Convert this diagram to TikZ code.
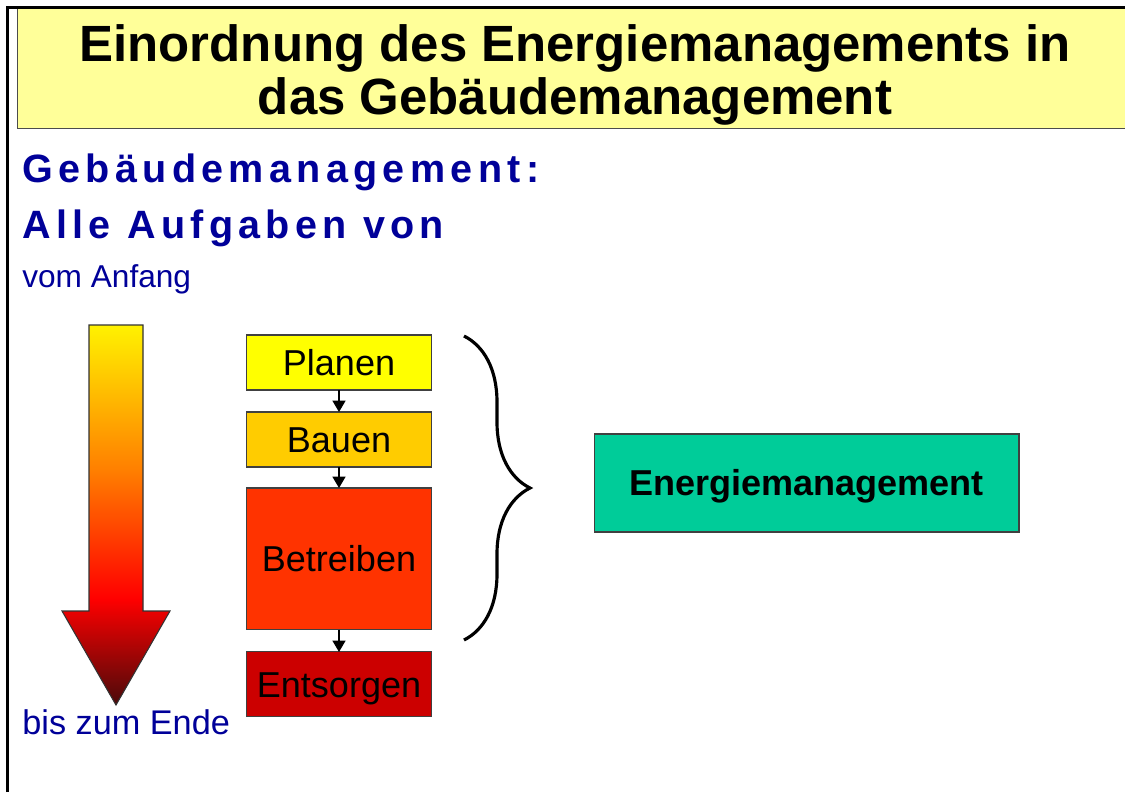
\documentclass[tikz,border=0pt]{standalone}
\usepackage{fontspec}
\setmainfont{Liberation Sans}
\newfontfamily\headfont[LetterSpace=13.5]{Liberation Sans}
\usetikzlibrary{arrows.meta,positioning,decorations.pathreplacing}
\definecolor{titleyellow}{HTML}{FFFF99}
\definecolor{slideblue}{HTML}{000099}
\definecolor{planyellow}{HTML}{FFFF00}
\definecolor{bauorange}{HTML}{FFCC00}
\definecolor{betriebred}{HTML}{FF3300}
\definecolor{entsorgred}{HTML}{CC0000}
\definecolor{energygreen}{HTML}{00CC99}
\definecolor{arrowtop}{HTML}{FFF200}
\definecolor{arrowdark}{HTML}{4A0A0A}
\pgfdeclareverticalshading{lifecycle}{100bp}{color(0bp)=(arrowdark); color(25bp)=(arrowdark); color(39bp)=(red); color(56bp)=(orange); color(75bp)=(arrowtop); color(100bp)=(arrowtop)}
\tikzstyle{phase}=[draw=black!75,line width=0.6pt,outer sep=0pt,minimum width=3.7cm,text height=14.7pt,text depth=0pt,font=\fontsize{20.5}{24}\selectfont]
\tikzstyle{bluetext}=[anchor=base west,inner sep=0pt,text=slideblue]

\begin{document}
\begin{tikzpicture}[x=0.02cm,y=-0.02cm,node distance=0.44cm]
	\tikzstyle{phase arrow}=[-{Triangle[length=6.5pt,width=7.5pt]},line width=0.6pt]
	\useasboundingbox (0,0) rectangle (1125,792);

	% Titel
	\fill[titleyellow] (17,9) rectangle (1125,128);
	\draw[black!70] (17,9) -- (17,128) -- (1125,128);
	\draw[line width=1.7pt] (7.5,792) -- (7.5,7.5) -- (1125,7.5);
	\node[align=center,font=\bfseries\fontsize{29}{30.5}\selectfont] (title) at (575,75)
		{Einordnung des Energiemanagements in\\das Gebäudemanagement};

	\node[bluetext,font=\headfont\bfseries\fontsize{22.5}{26}\selectfont] (gm) at (22,182) {Gebäudemanagement:};
	\node[bluetext,font=\headfont\bfseries\fontsize{22.5}{26}\selectfont] (aufgaben) at (22,238) {Alle Aufgaben von};
	\node[bluetext,font=\fontsize{18}{22}\selectfont] (anfang) at (22,287) {vom Anfang};
	\node[bluetext,font=\fontsize{19.5}{23}\selectfont] (ende) at (22,734) {bis zum Ende};

	% Lebenszyklus-Pfeil
	\shadedraw[shading=lifecycle,draw=black!80,line width=0.6pt]
		(89,325) -- (143,325) -- (143,611) -- (170,611) -- (116,705) -- (62,611) -- (89,611) -- cycle;

	\node[phase,fill=planyellow,minimum height=1.1cm]	(planen) at (339,362.5) {Planen};
	\node[phase,fill=bauorange,minimum height=1.1cm]	(bauen) [below=of planen] {Bauen};
	\node[phase,fill=betriebred,minimum height=2.84cm]	(betreiben) [below=0.42cm of bauen] {Betreiben};
	\node[phase,fill=entsorgred,minimum height=1.3cm]	(entsorgen) [below=of betreiben] {Entsorgen};

\path[phase arrow] (planen) edge (bauen)
			(bauen) edge (betreiben)
			(betreiben) edge (entsorgen);

	\draw[decorate,decoration={brace,amplitude=1.32cm},line width=1.8pt] (464,336) -- (464,640);

	\node[draw=black!75,line width=0.6pt,fill=energygreen,minimum width=8.5cm,minimum height=1.96cm,
		text height=14.7pt,text depth=0pt,font=\bfseries\fontsize{20.5}{24}\selectfont] (energie) at (806.5,483) {Energiemanagement};

\end{tikzpicture}
\end{document}
